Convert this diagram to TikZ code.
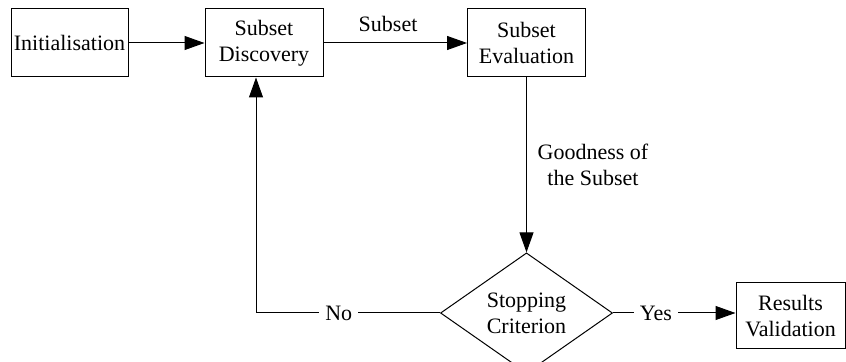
\documentclass[tikz,border=0pt]{standalone}
\usepackage{fontspec}
\setmainfont{Liberation Serif}
\usetikzlibrary{arrows.meta, shapes.geometric, positioning}

\tikzset{
	block/.style={draw, rectangle, line width=0.5pt, align=center, inner sep=1pt,
		minimum width=59pt, minimum height=34pt, font=\fontsize{11}{13}\selectfont},
	decision/.style={draw, diamond, line width=0.5pt, align=center, inner sep=0pt,
		minimum width=86pt, minimum height=48pt, font=\fontsize{11}{13}\selectfont},
	flow/.style={line width=0.5pt, -{Triangle[length=10pt, width=7pt]}},
	plain/.style={line width=0.5pt},
	lbl/.style={font=\fontsize{11}{13}\selectfont, align=center},
}

\begin{document}
\begin{tikzpicture}[x=0.5pt, y=-0.5pt]
	\useasboundingbox (0,0) rectangle (846,362);

	%% Bloecke
	\node[block, minimum width=58.5pt] (init) at (69.5,43) {Initialisation};
	\node[block] (disc) at (264,43) {Subset\\Discovery};
	\node[block] (eval) at (526.5,43) {Subset\\Evaluation};
	\node[decision] (crit) at (526.5,313) {Stopping\\Criterion};
	\node[block, minimum width=54.5pt, minimum height=33pt] (res) at (790.5,316) {Results\\Validation};
	\coordinate (back) at (256,313);
	%%%%%%%%%%%%%%%%

	%% Verbindungen
	\draw[flow] (init) -- (disc);
	\draw[flow] (disc) -- node[lbl, above=2pt, pos=0.45] (sub) {Subset} (eval);
	\draw[flow] (eval) -- node[lbl, right=2pt] (good) {Goodness of\\the Subset} (crit);
	\draw[plain] (crit.west) -- node[lbl, fill=white, inner sep=3pt, pos=0.55] (no) {No} (back);
	\draw[flow] (back) -- (back |- disc.south);
	\draw[flow] (crit.east) -- node[lbl, fill=white, inner sep=3pt, pos=0.35] (yes) {Yes} (crit.east -| res.west);
\end{tikzpicture}
\end{document}
